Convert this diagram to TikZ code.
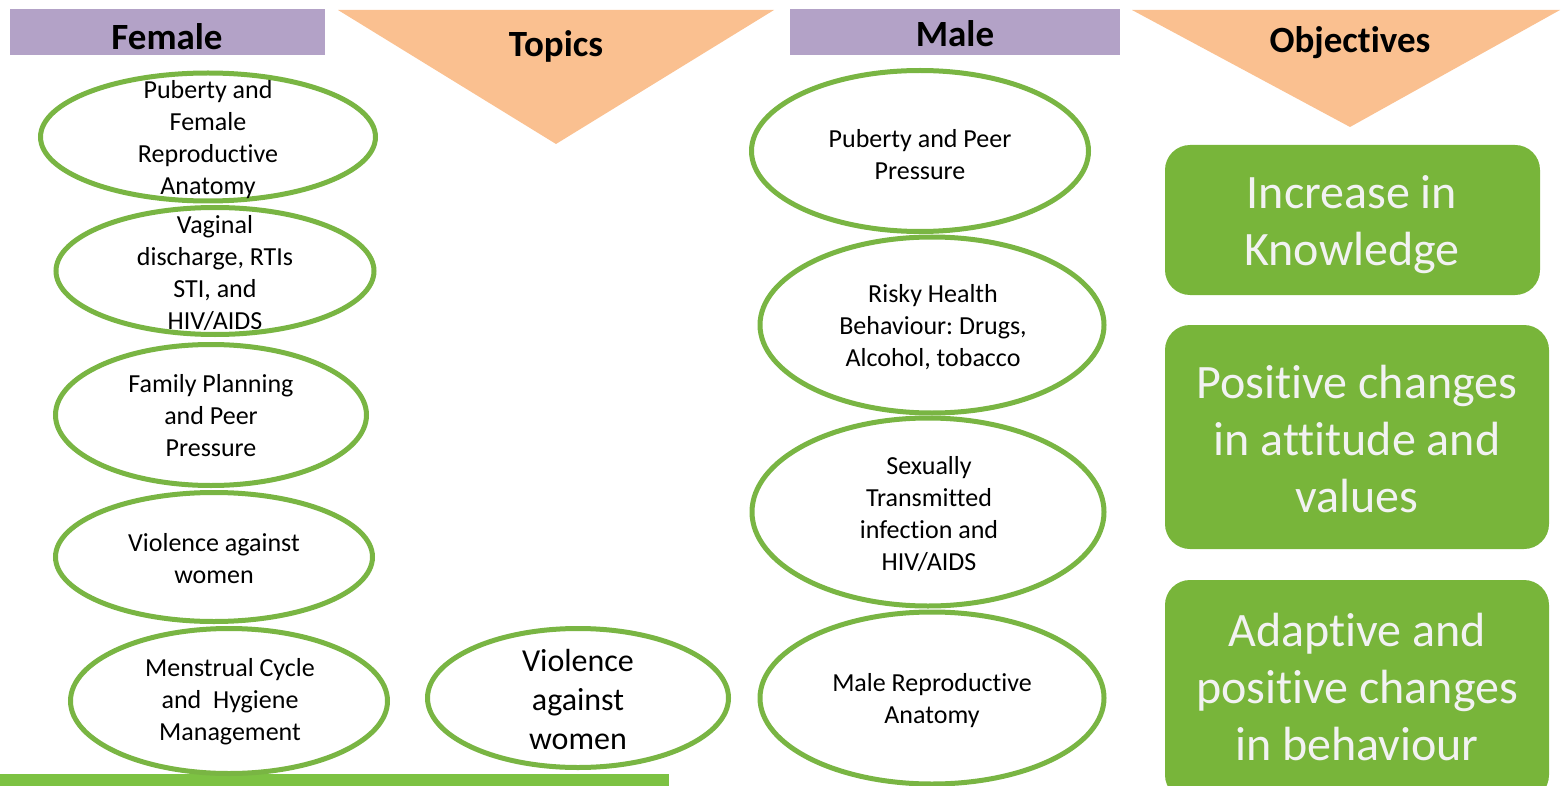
\documentclass[tikz,border=0pt]{standalone}
\usepackage{fontspec}
\setmainfont{Carlito}[RawFeature={-liga;-clig;-calt;-dlig}]
\usetikzlibrary{shapes.geometric}
\definecolor{hdrpurple}{HTML}{B3A2C7}
\definecolor{tri}{HTML}{FAC090}
\definecolor{ellgreen}{HTML}{79B543}
\definecolor{boxgreen}{HTML}{78B53A}
\definecolor{bargreen}{HTML}{7DC243}
\definecolor{boxtext}{HTML}{F2F2F2}
\tikzset{
  hdr/.style={fill=hdrpurple, draw=none, inner sep=0pt},
  hdrtext/.style={font=\fontsize{37}{44}\selectfont\bfseries, text=black, inner sep=0pt},
  ell/.style={ellipse, draw=ellgreen, line width=5pt, fill=white, inner sep=0pt},
  etext/.style={font=\fontsize{26}{32}\selectfont, align=center, text=black, inner sep=0pt},
  obj/.style={rectangle, rounded corners=25pt, fill=boxgreen, draw=none, inner sep=0pt},
  objtext/.style={text=boxtext, align=center, font=\fontsize{48}{57}\selectfont, inner sep=0pt},
}
\frenchspacing
\begin{document}
\begin{tikzpicture}[x=1pt,y=-1pt]
\useasboundingbox (0,0) rectangle (1562,786);
\clip (0,0) rectangle (1562,786);
% headers
\node[hdr, minimum width=315pt, minimum height=46pt] (fhdr) at (167.5,32) {};
\node[hdrtext] at (167,37) {Female};
\fill[tri] (338,10) -- (774,10) -- (556,144) -- cycle;
\node[hdrtext] (topics) at (556,46) {Topics};
\node[hdr, minimum width=330pt, minimum height=46pt] (mhdr) at (955,32) {};
\node[hdrtext] at (955,34) {Male};
\fill[tri] (1132,10) -- (1560,10) -- (1350,127) -- cycle;
\node[hdrtext] (objectives) at (1350,43) {Objectives};
% bottom bar
\fill[bargreen] (0,774) rectangle (669,786);
% female ellipses
\node[ell, minimum width=335pt, minimum height=128pt] (f1) at (208,137) {};
\node[ell, minimum width=318pt, minimum height=127pt] (f2) at (215,271) {};
\node[ell, minimum width=311pt, minimum height=141pt] (f3) at (211,415) {};
\node[ell, minimum width=317pt, minimum height=129pt] (f4) at (214,557) {};
\node[ell, minimum width=317pt, minimum height=145pt] (f5) at (229,701) {};
\node[etext] at (208,140) {Puberty and\\Female\\Reproductive\\Anatomy};
\node[etext] at (215,273) {Vaginal\\discharge, RTIs\\STI, and\\HIV/AIDS};
\node[etext] at (211,416) {Family Planning\\and Peer\\Pressure};
\node[etext] at (214,559) {Violence against\\women};
\node[etext] at (230,702) {Menstrual Cycle\\and\ \ Hygiene\\Management};
% middle ellipse
\node[ell, minimum width=301pt, minimum height=139pt] (mid) at (578,698) {};
\node[etext, font=\fontsize{32}{39}\selectfont] at (578,699) {Violence\\against\\women};
% male ellipses
\node[ell, minimum width=337pt, minimum height=161pt] (m1) at (920,151) {};
\node[ell, minimum width=344pt, minimum height=176pt] (m2) at (932,325) {};
\node[ell, minimum width=352pt, minimum height=188pt] (m3) at (928,512) {};
\node[ell, minimum width=344pt, minimum height=172pt] (m4) at (932,698) {};
\node[etext] at (920,155) {Puberty and Peer\\Pressure};
\node[etext] at (933,327) {Risky Health\\Behaviour: Drugs,\\Alcohol, tobacco};
\node[etext] at (929,514) {Sexually\\Transmitted\\infection and\\HIV/AIDS};
\node[etext] at (932,701) {Male Reproductive\\Anatomy};
% objectives
\node[obj, minimum width=375pt, minimum height=150pt] (o1) at (1352.5,220) {};
\node[obj, minimum width=384pt, minimum height=224pt] (o2) at (1357,437) {};
\node[obj, minimum width=384pt, minimum height=220pt] (o3) at (1357,690) {};
\node[objtext] at (1352,225) {Increase in\\Knowledge};
\node[objtext] at (1357,439) {Positive changes\\in attitude and\\values};
\node[objtext] at (1357,687) {Adaptive and\\positive changes\\in behaviour};
\end{tikzpicture}
\end{document}
